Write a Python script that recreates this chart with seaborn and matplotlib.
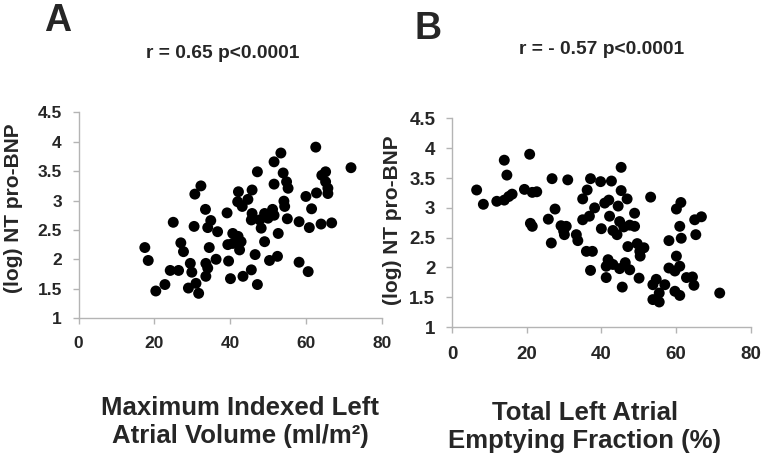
import matplotlib
matplotlib.use("Agg")
import matplotlib.pyplot as plt
import seaborn as sns
import pandas as pd

# panel A: maximum indexed LA volume vs log NT pro-BNP
lav_x = [17.5, 18.4, 20.4, 22.8, 24.2, 26.4, 25.0, 27.0, 27.7, 29.5, 29.9, 29.0,
         31.0, 31.7, 30.5, 30.7, 32.3, 33.5, 34.1, 34.9, 36.7, 34.5, 33.6, 34.1,
         33.6, 36.3, 39.6, 40.1, 39.2, 39.4, 40.7, 40.7, 42.1, 42.9, 42.5, 42.2,
         42.0, 43.2, 44.7, 45.8, 47.2, 43.4, 45.6, 47.2, 46.6, 45.8, 45.6, 47.8,
         48.2, 49.1, 49.1, 50.0, 51.2, 51.6, 51.6, 53.4, 51.6, 54.0, 54.9, 55.3,
         54.2, 54.4, 55.1, 52.7, 50.4, 52.5, 58.2, 58.2, 60.6, 60.9, 60.0, 61.5,
         62.6, 62.8, 64.0, 66.8, 64.2, 65.2, 65.2, 65.8, 65.8, 71.9]
lav_y = [2.20, 1.98, 1.46, 1.57, 1.81, 1.81, 2.63, 2.28, 2.13, 1.93, 1.78, 1.51,
         1.59, 1.42, 2.56, 3.11, 3.25, 2.85, 2.54, 2.66, 2.47, 2.20, 1.93, 1.85,
         1.71, 2.00, 1.97, 1.67, 2.79, 2.25, 2.44, 2.27, 2.39, 2.30, 2.16, 3.15,
         2.98, 2.90, 3.02, 3.18, 3.49, 1.71, 1.82, 1.57, 2.08, 2.78, 2.67, 2.67,
         2.53, 2.30, 2.78, 2.70, 2.85, 2.75, 3.66, 3.81, 3.28, 3.47, 3.32, 3.21,
         2.99, 2.90, 2.69, 2.44, 1.98, 2.05, 2.64, 1.95, 1.79, 2.54, 3.07, 2.86,
         3.91, 3.13, 2.60, 2.62, 3.43, 3.49, 3.32, 3.21, 3.12, 3.56]

# panel B: total LA emptying fraction vs log NT pro-BNP
laef_x = [6.6, 8.4, 12.0, 14.0, 14.0, 14.7, 15.2, 16.1, 20.8, 19.4, 21.5, 22.7,
          21.0, 21.5, 25.8, 27.6, 26.8, 26.6, 29.2, 29.9, 30.6, 30.1, 31.0, 33.3,
          33.7, 35.0, 36.2, 37.1, 35.0, 36.8, 38.2, 36.0, 37.6, 37.1, 39.8, 42.7,
          40.9, 42.0, 42.2, 40.0, 43.1, 44.5, 44.2, 45.3, 45.3, 46.9, 44.9, 46.0,
          47.6, 48.9, 48.9, 41.8, 41.3, 43.1, 41.3, 44.9, 46.4, 47.6, 45.6, 47.1,
          49.6, 50.3, 51.4, 50.4, 50.1, 53.2, 53.8, 54.7, 57.0, 53.8, 55.5, 55.5,
          58.1, 58.1, 59.7, 61.0, 60.1, 60.1, 61.3, 61.0, 61.4, 59.7, 61.0, 62.8,
          64.4, 64.8, 65.3, 65.0, 66.8, 71.7]
laef_y = [3.30, 3.06, 3.11, 3.13, 3.80, 3.55, 3.19, 3.23, 3.90, 3.31, 3.26, 3.27,
          2.74, 2.69, 2.81, 2.98, 3.49, 2.41, 2.70, 2.61, 2.69, 2.55, 3.47, 2.55,
          2.45, 3.15, 3.30, 3.49, 2.80, 2.86, 3.00, 2.27, 2.27, 1.95, 3.44, 3.45,
          3.08, 3.13, 2.86, 2.65, 2.62, 3.03, 2.55, 3.68, 3.29, 3.15, 2.77, 2.68,
          2.71, 2.91, 2.69, 2.13, 2.02, 2.05, 1.83, 1.98, 2.08, 1.96, 1.67, 2.35,
          2.40, 2.27, 2.33, 2.19, 1.82, 3.18, 1.71, 1.80, 1.71, 1.46, 1.42, 1.57,
          2.45, 1.99, 1.94, 2.02, 2.19, 2.98, 3.09, 2.69, 2.49, 1.60, 1.53, 1.83,
          1.84, 1.70, 2.55, 2.80, 2.85, 1.57]

x_ticks = [0, 20, 40, 60, 80]
y_ticks = [1, 1.5, 2, 2.5, 3, 3.5, 4, 4.5]
y_labels = ["1", "1.5", "2", "2.5", "3", "3.5", "4", "4.5"]

sns.set_style("white")
plt.rcParams["font.family"] = ["Liberation Sans", "DejaVu Sans"]
plt.rcParams["font.weight"] = "bold"

W, H = 766, 461
fig = plt.figure(figsize=(W / 100, H / 100), dpi=100)


def px_axes(left, top, right, bottom):
    return fig.add_axes([left / W, 1 - bottom / H, (right - left) / W, (bottom - top) / H])


def style_axes(ax, x, y, tick_size):
    df = pd.DataFrame({"x": x, "y": y})
    sns.scatterplot(data=df, x="x", y="y", ax=ax, color="black", s=62,
                    edgecolor="none", linewidth=0, legend=False)
    ax.set_xlim(0, 80)
    ax.set_ylim(1, 4.5)
    ax.set_xticks(x_ticks)
    ax.set_yticks(y_ticks)
    ax.set_yticklabels(y_labels)
    ax.set_xlabel("")
    ax.set_ylabel("")
    for s in ["top", "right"]:
        ax.spines[s].set_visible(False)
    for s in ["left", "bottom"]:
        ax.spines[s].set_color("#b4b4b4")
        ax.spines[s].set_linewidth(1.0)
    ax.tick_params(axis="both", which="both", direction="out", length=4, width=1,
                   color="#b4b4b4", labelsize=tick_size, left=True, bottom=True)
    ax.tick_params(axis="y", pad=8)
    for lab in ax.get_xticklabels() + ax.get_yticklabels():
        lab.set_fontweight("bold")


axA = px_axes(78.5, 112.5, 381.7, 318)
style_axes(axA, lav_x, lav_y, 12.5)
axA.tick_params(axis="x", pad=9)

axB = px_axes(452, 118.5, 750.7, 327)
style_axes(axB, laef_x, laef_y, 13.5)
axB.tick_params(axis="x", pad=10)


def ftext(x, y, s, size, **kw):
    fig.text(x / W, 1 - y / H, s, fontsize=size, fontweight="bold",
             ha="center", va="center", **kw)


ftext(58, 21, "A", 27)
ftext(428, 29, "B", 27)
ftext(223, 53, "r = 0.65 p<0.0001", 13.8)
ftext(602, 50, "r = - 0.57 p<0.0001", 13.8)
ftext(14, 208, "(log) NT pro-BNP", 15, rotation=90)
ftext(393, 220, "(log) NT pro-BNP", 15, rotation=90)
ftext(240, 422, "Maximum Indexed Left\nAtrial Volume (ml/m²)", 18.5,
      linespacing=1.25)
ftext(585, 427, "Total Left Atrial\nEmptying Fraction (%)", 18.5, linespacing=1.25)

fig.savefig("out.png", dpi=100)
